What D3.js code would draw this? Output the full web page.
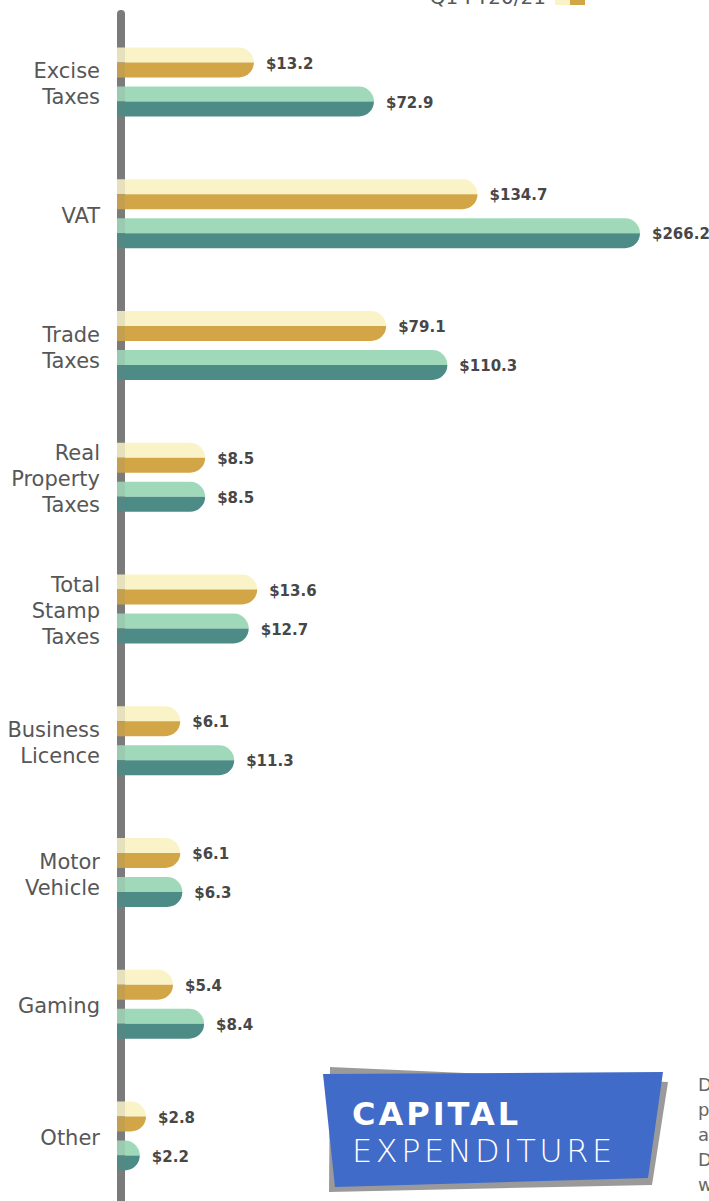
<!DOCTYPE html>
<html>
<head>
<meta charset="utf-8">
<script src="https://cdn.jsdelivr.net/npm/d3@7/dist/d3.min.js"></script>
<style>
  html, body { margin: 0; padding: 0; background: #fff; overflow: hidden; }
  svg { display: block; }
</style>
</head>
<body>
<svg id="chart" width="709" height="1201"></svg>
<script>
// ---------- DATA ----------
const categories = ["Excise Taxes", "VAT", "Trade Taxes", "Real Property Taxes", "Total Stamp Taxes",
                    "Business Licence", "Motor Vehicle", "Gaming", "Other"];
const categoryLines = [["Excise", "Taxes"], ["VAT"], ["Trade", "Taxes"], ["Real", "Property", "Taxes"],
                       ["Total", "Stamp", "Taxes"], ["Business", "Licence"], ["Motor", "Vehicle"], ["Gaming"], ["Other"]];
const seriesNames = ["Q1 FY20/21", "Q1 FY19/20"];
const q1FY2021 = [13.2, 134.7, 79.1, 8.5, 13.6, 6.1, 6.1, 5.4, 2.8];
const q1FY1920 = [72.9, 266.2, 110.3, 8.5, 12.7, 11.3, 6.3, 8.4, 2.2];
// the infographic's bars are not drawn to a single linear scale: piecewise knots
const scaleKnots = [0, 13.5, 110, 266.2];
const boxTitle = ["CAPITAL", "EXPENDITURE"];
const sideText = ["During", "period", "a", "Deficit", "was"];

// ---------- STYLE ----------
const colors = {
  s0: { light: "#fbf3c8", dark: "#d2a647" },
  s1: { light: "#a0d9b9", dark: "#4d8c86" }
};
const svg = d3.select("#chart");
const axisX = 117, axisW = 8;
const barH = 30, barGap = 9;

const y = d3.scalePoint().domain(categories).range([82, 1136]);
const x = d3.scaleLinear().domain(scaleKnots).range([0, 140, 330, 523].map(v => v + axisX));

// axis line (under bars)
svg.append("rect").attr("x", axisX).attr("y", 10).attr("width", axisW).attr("height", 1240)
  .attr("rx", 4).attr("fill", "#7c7c7c");

function halfPaths(x0, x1, cy) {
  const r = barH / 2;
  const top = `M${x0},${cy} V${cy - r} H${x1 - r} A${r},${r} 0 0 1 ${x1},${cy} Z`;
  const bot = `M${x0},${cy} H${x1} A${r},${r} 0 0 1 ${x1 - r},${cy + r} H${x0} Z`;
  return [top, bot];
}

const fmt = v => "$" + d3.format(".1f")(v);

const rows = categories.map((c, i) => ({ c, i, v0: q1FY2021[i], v1: q1FY1920[i] }));
const g = svg.append("g");
rows.forEach(d => {
  const cy = y(d.c);
  [[d.v0, colors.s0, cy - (barH + barGap) / 2], [d.v1, colors.s1, cy + (barH + barGap) / 2]].forEach(([v, col, by]) => {
    const [t, b] = halfPaths(axisX, x(v), by);
    g.append("path").attr("d", t).attr("fill", col.light);
    g.append("path").attr("d", b).attr("fill", col.dark);
    g.append("text").attr("x", x(v) + 12).attr("y", by + 6)
      .attr("font-family", "DejaVu Sans").attr("font-weight", "bold").attr("font-size", 15)
      .attr("fill", "#474747").text(fmt(v));
  });
  // category label
  const lines = categoryLines[d.i];
  const t = g.append("text").attr("text-anchor", "end").attr("font-family", "DejaVu Sans")
    .attr("font-size", 21).attr("fill", "#575757");
  lines.forEach((ln, k) => {
    t.append("tspan").attr("x", 100).attr("y", cy - (lines.length - 1) * 13 + 9 + k * 26).text(ln);
  });
});

// axis overlay so bars show the axis faintly through them
svg.append("rect").attr("x", axisX).attr("y", 10).attr("width", axisW).attr("height", 1240)
  .attr("rx", 4).attr("fill", "#7c7c7c").attr("opacity", 0.15);

// legend (cut off at top, as in the original)
svg.append("text").attr("x", 546).attr("y", 4).attr("text-anchor", "end")
  .attr("font-family", "DejaVu Sans").attr("font-size", 20).attr("fill", "#575757").text(seriesNames[0]);
svg.append("rect").attr("x", 555).attr("y", -10).attr("width", 15).attr("height", 15).attr("fill", colors.s0.light);
svg.append("rect").attr("x", 570).attr("y", -10).attr("width", 15).attr("height", 15).attr("fill", colors.s0.dark);

// capital expenditure box
svg.append("polygon").attr("points", "330,1067 668,1082 652,1185 329,1192").attr("fill", "#9a9a9a");
svg.append("polygon").attr("points", "323,1074 663,1072 648,1178 335,1187").attr("fill", "#416bc8");
svg.append("text").attr("x", 352).attr("y", 1125).attr("font-family", "DejaVu Sans").attr("font-weight", "bold")
  .attr("font-size", 32).attr("letter-spacing", 3).attr("fill", "#fff").text(boxTitle[0]);
svg.append("text").attr("x", 352).attr("y", 1162).attr("font-family", "DejaVu Sans").attr("font-weight", 200)
  .attr("font-size", 32).attr("letter-spacing", 3.5).attr("fill", "#fff").text(boxTitle[1]);

// side paragraph (cut off at right edge, as in the original)
sideText.forEach((s, k) => {
  svg.append("text").attr("x", 698).attr("y", 1091 + k * 25).attr("font-family", "DejaVu Sans")
    .attr("font-size", 18).attr("fill", "#666").text(s);
});
</script>
</body>
</html>
